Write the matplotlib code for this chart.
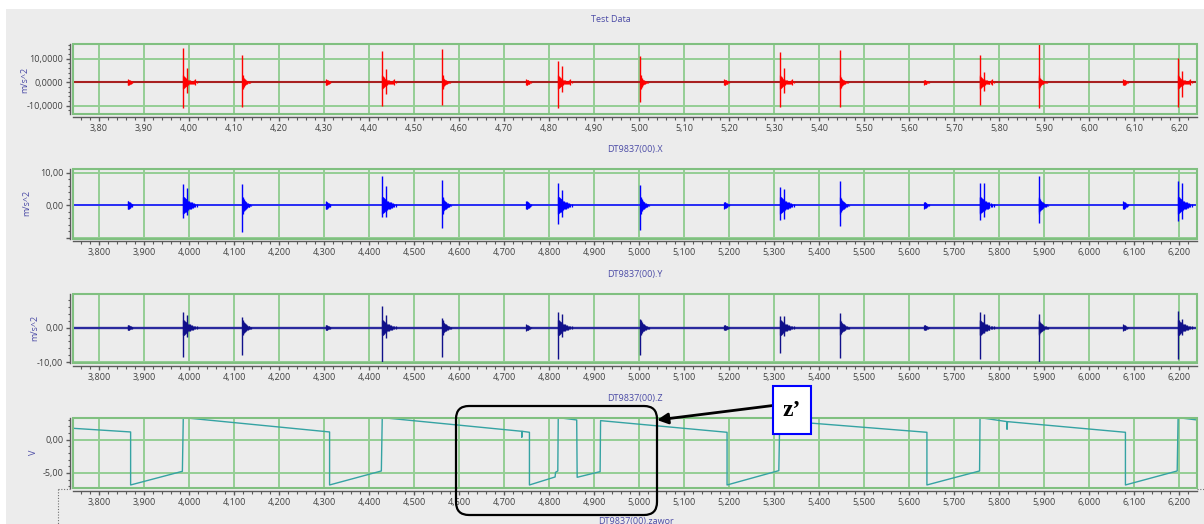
import matplotlib
matplotlib.use("Agg")
import matplotlib.pyplot as plt
import matplotlib.patches as mpatches
from matplotlib.lines import Line2D
from matplotlib.ticker import FixedLocator, FixedFormatter, MultipleLocator

plt.rcParams['font.family'] = ['Open Sans', 'DejaVu Sans']

# ------------------------------------------------------------------ data
XLIM = (3.742, 6.239)
x_ticks = [3.8, 3.9, 4.0, 4.1, 4.2, 4.3, 4.4, 4.5, 4.6, 4.7, 4.8, 4.9, 5.0,
           5.1, 5.2, 5.3, 5.4, 5.5, 5.6, 5.7, 5.8, 5.9, 6.0, 6.1, 6.2]
x_labels_2dec = ["3,80", "3,90", "4,00", "4,10", "4,20", "4,30", "4,40", "4,50",
                 "4,60", "4,70", "4,80", "4,90", "5,00", "5,10", "5,20", "5,30",
                 "5,40", "5,50", "5,60", "5,70", "5,80", "5,90", "6,00", "6,10", "6,20"]
x_labels_3dec = ["3,800", "3,900", "4,000", "4,100", "4,200", "4,300", "4,400",
                 "4,500", "4,600", "4,700", "4,800", "4,900", "5,000", "5,100",
                 "5,200", "5,300", "5,400", "5,500", "5,600", "5,700", "5,800",
                 "5,900", "6,000", "6,100", "6,200"]

titles = ["Test Data", "DT9837(00).X", "DT9837(00).Y", "DT9837(00).Z"]
bottom_title = "DT9837(00).zawor"

# impact times (s)
big_t = [3.986, 4.118, 4.428, 4.562, 4.819, 5.002, 5.312, 5.446, 5.756, 5.887, 6.196]
double_idx = [0, 2, 4, 6, 8, 10]          # bursts with a second hit
sec_t = [3.995, 4.437, 4.829, 5.321, 5.765, 6.205]
small_t = [3.864, 4.304, 4.749, 5.189, 5.633, 6.075]

# ringing after each hit (offset s, half amplitude)
ring_dt = [0.001, 0.002, 0.003, 0.004, 0.005, 0.006, 0.007, 0.008, 0.009, 0.010,
           0.012, 0.014, 0.016, 0.018, 0.020, 0.022, 0.025, 0.028, 0.031]
small_dt = [0.0, 0.001, 0.002, 0.003, 0.004, 0.005, 0.006, 0.008, 0.010]
small_shape = [1.0, 0.9, 0.85, 0.75, 0.65, 0.55, 0.45, 0.35, 0.25]

# Test Data (m/s^2)
td_hi = [14.7, 11.6, 13.5, 14.2, 9.2, 11.2, 12.8, 13.7, 11.6, 16.3, 10.2]
td_lo = [-11.1, -10.6, -10.3, -9.8, -11.1, -8.2, -10.4, -10.6, -9.7, -10.8, -10.6]
td_sec_hi = [6.0, 5.7, 7.1, 5.9, 4.5, 4.9]
td_sec_lo = [-4.4, -4.8, -4.3, -4.6, -3.6, -6.4]
td_small = [1.2, 1.2, 1.2, 1.2, 1.0, 1.3]
td_ring_long = [3.0, 2.6, 2.3, 2.1, 1.9, 1.7, 1.6, 1.5, 1.3, 1.2, 1.0, 0.9, 0.8,
                0.7, 0.6, 0.6, 0.9, 1.2, 0.5]
td_ring_short = [3.0, 2.4, 1.9, 1.6, 1.3, 1.1, 0.9, 0.8, 0.7, 0.6, 0.5, 0.4, 0.3,
                 0.2, 0.0, 0.0, 0.0, 0.0, 0.0]

# X channel (m/s^2)
x_hi = [6.6, 6.5, 9.1, 7.8, 6.9, 6.2, 5.7, 7.5, 6.7, 9.0, 7.5]
x_lo = [-4.0, -8.3, -3.5, -7.1, -5.8, -7.6, -4.5, -6.3, -4.5, -5.5, -4.7]
x_sec_hi = [5.2, 5.9, 4.7, 4.9, 6.7, 6.7]
x_sec_lo = [-3.0, -3.5, -3.7, -4.1, -3.7, -4.1]
x_small = [1.3, 1.2, 1.3, 1.0, 1.0, 1.2]
x_ring_long = [2.6, 2.5, 2.4, 2.2, 2.1, 2.0, 1.9, 1.8, 1.7, 1.6, 1.4, 1.2, 1.1,
               1.0, 0.9, 0.8, 0.6, 0.5, 0.4]
x_ring_short = [2.6, 2.2, 1.9, 1.6, 1.4, 1.2, 1.1, 1.0, 0.9, 0.8, 0.6, 0.5, 0.4,
                0.3, 0.2, 0.0, 0.0, 0.0, 0.0]

# Y channel (m/s^2)
y_hi = [4.4, 3.2, 6.1, 2.7, 4.6, 2.4, 3.4, 4.1, 4.6, 3.9, 4.9]
y_lo = [-8.5, -7.9, -10.1, -8.5, -9.1, -7.9, -7.2, -8.8, -9.0, -10.3, -9.1]
y_sec_hi = [3.7, 3.7, 3.9, 3.4, 3.9, 2.4]
y_sec_lo = [-2.6, -3.1, -2.8, -2.4, -1.6, -2.0]
y_small = [0.8, 0.8, 0.9, 0.8, 0.8, 0.9]
y_ring_long = [2.2, 2.1, 2.0, 1.8, 1.7, 1.6, 1.5, 1.4, 1.3, 1.2, 1.1, 1.0, 0.9,
               0.8, 0.7, 0.6, 0.5, 0.5, 0.4]
y_ring_short = [2.2, 1.9, 1.6, 1.4, 1.2, 1.1, 1.0, 0.9, 0.8, 0.7, 0.6, 0.5, 0.4,
                0.3, 0.3, 0.0, 0.0, 0.0, 0.0]

# Z channel (V) sawtooth vertices
z_t = [3.742, 3.870, 3.870, 3.985, 3.987, 4.312, 4.312, 4.427, 4.429,
       4.739, 4.739, 4.740, 4.756, 4.756, 4.813, 4.814, 4.819, 4.820,
       4.861, 4.862, 4.913, 4.914, 5.195, 5.195, 5.310, 5.312, 5.639,
       5.639, 5.756, 5.757, 5.817, 5.817, 5.818, 6.080, 6.080, 6.195,
       6.197, 6.239]
z_v = [1.70, 1.15, -6.80, -4.75, 3.30, 1.15, -6.80, -4.70, 3.30,
       1.25, 0.35, 1.25, 1.10, -6.80, -5.60, -4.90, -4.70, 3.30,
       2.95, -5.65, -4.80, 2.85, 1.10, -6.80, -4.65, 2.85, 1.10,
       -6.80, -4.70, 3.30, 2.70, 1.55, 2.70, 1.10, -6.80, -4.70,
       3.30, 2.95]

# ------------------------------------------------------------------ style
W, H = 1204, 524
BG = '#ececec'
GRID = '#94ce94'
FRAME = '#80c080'
AXC = '#5a5a5a'
TXT = '#404040'
TITLEC = '#4b4ba6'

fig = plt.figure(figsize=(W / 100, H / 100), dpi=100)
fig.patch.set_facecolor('white')
fig.add_artist(mpatches.Rectangle((6 / W, 0), 1, (H - 9) / H, transform=fig.transFigure,
                                  facecolor=BG, edgecolor='none', zorder=-10))


def px_axes(top, bottom, left=73, right=1197):
    return fig.add_axes([left / W, 1 - bottom / H, (right - left) / W, (bottom - top) / H])


def style_axes(ax, ylim, yticks, ylabels, yminor, xlabels):
    ax.set_facecolor(BG)
    ax.set_xlim(*XLIM)
    ax.set_ylim(*ylim)
    ax.xaxis.set_major_locator(FixedLocator(x_ticks))
    ax.xaxis.set_major_formatter(FixedFormatter(xlabels))
    ax.xaxis.set_minor_locator(MultipleLocator(0.02))
    ax.yaxis.set_major_locator(FixedLocator(yticks))
    ax.yaxis.set_major_formatter(FixedFormatter(ylabels))
    ax.yaxis.set_minor_locator(MultipleLocator(yminor))
    for s in ['top', 'right']:
        ax.spines[s].set_visible(False)
    for s in ['left', 'bottom']:
        ax.spines[s].set_position(('outward', 2))
        ax.spines[s].set_color(AXC)
        ax.spines[s].set_linewidth(1.0)
    ax.tick_params(which='major', direction='out', length=3, width=1, color=AXC,
                   labelsize=6.5, labelcolor=TXT, pad=2)
    ax.tick_params(which='minor', direction='out', length=1.8, width=0.8, color=AXC)
    ax.set_axisbelow(True)
    ax.grid(True, which='major', color=GRID, linewidth=1.4)
    ax.add_patch(mpatches.Rectangle((0, 0), 1, 1, transform=ax.transAxes, fill=False,
                                    edgecolor=FRAME, linewidth=1.5, clip_on=False, zorder=3))


def draw_channel(ax, color, base_color, base_lw, hi, lo, s_hi, s_lo, small_amp,
                 ring_long, ring_short):
    ax.hlines(0, XLIM[0], XLIM[1], color=base_color, linewidth=base_lw, zorder=2)
    xs, y0, y1 = [], [], []
    for i, t in enumerate(big_t):
        ring = ring_long if i in double_idx else ring_short
        for dt, a in zip(ring_dt, ring):
            if a > 0:
                xs.append(t + dt); y0.append(-a); y1.append(a)
    for t, a in zip(small_t, small_amp):
        for dt, f in zip(small_dt, small_shape):
            xs.append(t + dt); y0.append(-a * f); y1.append(a * f)
    ax.vlines(xs, y0, y1, color=color, linewidth=0.9, zorder=2)
    ax.vlines(big_t, lo, hi, color=color, linewidth=1.0, zorder=2)
    ax.vlines(sec_t, s_lo, s_hi, color=color, linewidth=1.0, zorder=2)


# panel 1: Test Data
ax1 = px_axes(44, 114)
style_axes(ax1, (-13.5, 16.3), [-10, 0, 10], ["-10,0000", "0,0000", "10,0000"], 2, x_labels_2dec)
draw_channel(ax1, '#ff0000', '#a82020', 1.5, td_hi, td_lo, td_sec_hi, td_sec_lo, td_small,
             td_ring_long, td_ring_short)

# panel 2: X
ax2 = px_axes(169, 238.7)
style_axes(ax2, (-10.25, 11.1), [-10, 0, 10], ["", "0,00", "10,00"], 2, x_labels_3dec)
draw_channel(ax2, '#0000ff', '#2020ff', 1.3, x_hi, x_lo, x_sec_hi, x_sec_lo, x_small,
             x_ring_long, x_ring_short)

# panel 3: Y
ax3 = px_axes(294, 363.3)
style_axes(ax3, (-10.3, 9.7), [-10, 0], ["-10,00", "0,00"], 2, x_labels_3dec)
draw_channel(ax3, '#10108a', '#2a2a9e', 1.7, y_hi, y_lo, y_sec_hi, y_sec_lo, y_small,
             y_ring_long, y_ring_short)

# panel 4: Z
ax4 = px_axes(418.3, 488.3)
style_axes(ax4, (-7.3, 3.2), [-5, 0], ["-5,00", "0,00"], 1, x_labels_3dec)
ax4.plot(z_t, z_v, color='#35a3a3', linewidth=1.0, zorder=2)

# titles and axis labels
for txt, xc, yc in zip(titles, [611, 635, 635, 635], [19, 149.5, 274.5, 398.5]):
    fig.text(xc / W, 1 - yc / H, txt, ha='center', va='center', fontsize=6.5, color=TITLEC)
fig.text(636 / W, 1 - 517 / H, bottom_title, ha='center', va='top', fontsize=6.5, color=TITLEC)

for txt, xc, yc in zip(["m/s^2", "m/s^2", "m/s^2", "V"], [25, 27, 35, 33], [80, 203, 328, 452]):
    fig.text(xc / W, 1 - yc / H, txt, ha='center', va='center', rotation=90,
             fontsize=6.5, color=TITLEC)

# dotted selection outline below the last panel
fig.add_artist(Line2D([58 / W, 58 / W], [1 - 489 / H, 0], transform=fig.transFigure,
                      color='#707070', linewidth=0.8, linestyle=(0, (1, 1.5))))
fig.add_artist(Line2D([58 / W, 71 / W], [1 - 489 / H, 1 - 489 / H], transform=fig.transFigure,
                      color='#707070', linewidth=0.8, linestyle=(0, (1, 1.5))))
fig.add_artist(Line2D([1197 / W, 1 - 1e-4], [1 - 489 / H, 1 - 489 / H], transform=fig.transFigure,
                      color='#707070', linewidth=0.8, linestyle=(0, (1, 1.5))))

# annotation: rounded box, arrow and z' label
T = fig.dpi_scale_trans


def P(x, y):
    return (x / 100, (H - y) / 100)


fig.add_artist(mpatches.FancyBboxPatch(P(456, 515), 2.01, 1.09,
                                       boxstyle="round,pad=0,rounding_size=0.13",
                                       transform=T, fill=False, edgecolor='black',
                                       linewidth=1.6, zorder=5))
fig.add_artist(mpatches.FancyArrowPatch(P(773, 405.5), P(657, 420), transform=T,
                                        arrowstyle='-|>', mutation_scale=16,
                                        color='black', linewidth=2.0, zorder=6,
                                        shrinkA=0, shrinkB=0))
fig.add_artist(mpatches.Rectangle(P(773, 434), 0.38, 0.48, transform=T,
                                  facecolor='white', edgecolor='#0000ff',
                                  linewidth=1.5, zorder=7))
fig.text(792 / W, 1 - 411 / H, "z\u2019", ha='center', va='center', fontsize=17,
         fontweight='bold', family=['Liberation Serif', 'DejaVu Serif'], color='black', zorder=8)

fig.savefig('out.png', dpi=100)
